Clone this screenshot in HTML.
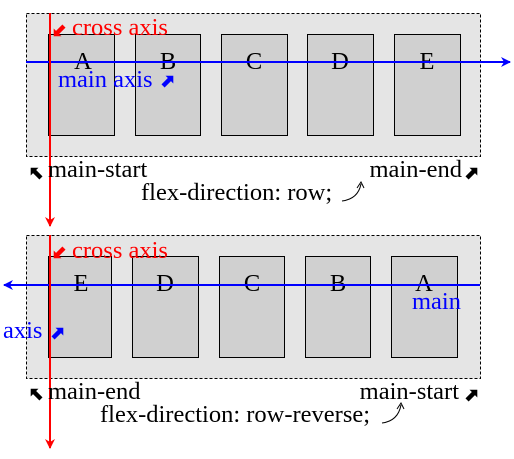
<!DOCTYPE html>
<html><head><meta charset="utf-8"><style>
body{margin:0;background:#fff;width:514px;height:454px;overflow:hidden}
svg text{font-family:"Liberation Serif",serif;font-size:24.5px}
</style></head><body>
<svg width="514" height="454">
<defs>
<marker id="ab" markerWidth="10" markerHeight="10" refX="9" refY="5" orient="auto" markerUnits="userSpaceOnUse"><path d="M0,0 L10,5 L0,10 L3,5z" fill="blue"/></marker>
<marker id="ar" markerWidth="10" markerHeight="10" refX="9" refY="5" orient="auto" markerUnits="userSpaceOnUse"><path d="M0,0 L10,5 L0,10 L3,5z" fill="red"/></marker>
<g id="tip"><path d="M-7,-2.2 L2,-2.2 L2,-5.5 L7.5,0 L2,5.5 L2,2.2 L-7,2.2z"/></g>
</defs>
<g>
<rect x="26.5" y="13.5" width="454" height="143" fill="#e5e5e5" stroke="#000" stroke-dasharray="3,2"/>
<g fill="#d0d0d0" stroke="#000">
<rect x="48.5" y="34.5" width="66" height="101"/>
<rect x="135.5" y="34.5" width="65" height="101"/>
<rect x="221.5" y="34.5" width="66" height="101"/>
<rect x="307.5" y="34.5" width="66" height="101"/>
<rect x="394.5" y="34.5" width="66" height="101"/>
</g>
<g text-anchor="middle">
<text x="83" y="69">A</text><text x="168" y="69">B</text><text x="254" y="69">C</text><text x="340" y="69">D</text><text x="427" y="69">E</text>
</g>
<line x1="26" y1="62" x2="510" y2="62" stroke="blue" stroke-width="2" marker-end="url(#ab)"/>
<line x1="50" y1="13" x2="50" y2="226" stroke="red" stroke-width="2" marker-end="url(#ar)"/>
<text x="72" y="35" fill="red">cross axis</text>
<use href="#tip" transform="translate(59,31) rotate(135)" fill="red"/>
<text x="58" y="87" fill="blue">main axis</text>
<use href="#tip" transform="translate(168,81) rotate(-45)" fill="blue"/>
<use href="#tip" transform="translate(36,173) rotate(-135)" fill="#000"/>
<text x="48" y="177">main-start</text>
<text x="462" y="177" text-anchor="end">main-end</text>
<use href="#tip" transform="translate(472,173) rotate(-45)" fill="#000"/>
<text x="141" y="200">flex-direction: row;</text>
<path d="M342,201 Q358,199 361,184" fill="none" stroke="#000"/><path d="M357,188 L361,182 L364,188" fill="none" stroke="#000"/>
</g>
<g>
<rect x="26.5" y="235.5" width="454" height="143" fill="#e5e5e5" stroke="#000" stroke-dasharray="3,2"/>
<g fill="#d0d0d0" stroke="#000">
<rect x="48.5" y="256.5" width="63" height="101"/>
<rect x="132.5" y="256.5" width="66" height="101"/>
<rect x="219.5" y="256.5" width="65" height="101"/>
<rect x="305.5" y="256.5" width="65" height="101"/>
<rect x="391.5" y="256.5" width="66" height="101"/>
</g>
<g text-anchor="middle">
<text x="81" y="291">E</text><text x="165" y="291">D</text><text x="252" y="291">C</text><text x="338" y="291">B</text><text x="424" y="291">A</text>
</g>
<line x1="480" y1="285" x2="4" y2="285" stroke="blue" stroke-width="2" marker-end="url(#ab)"/>
<line x1="50" y1="235" x2="50" y2="448" stroke="red" stroke-width="2" marker-end="url(#ar)"/>
<text x="72" y="258" fill="red">cross axis</text>
<use href="#tip" transform="translate(59,253) rotate(135)" fill="red"/>
<text x="412" y="309" fill="blue">main</text>
<text x="3" y="338" fill="blue">axis</text>
<use href="#tip" transform="translate(58,333) rotate(-45)" fill="blue"/>
<use href="#tip" transform="translate(36,394) rotate(-135)" fill="#000"/>
<text x="48" y="399">main-end</text>
<text x="459" y="399" text-anchor="end">main-start</text>
<use href="#tip" transform="translate(472,395) rotate(-45)" fill="#000"/>
<text x="100" y="422">flex-direction: row-reverse;</text>
<path d="M382,423 Q398,421 401,405" fill="none" stroke="#000"/><path d="M397,409 L401,403 L404,409" fill="none" stroke="#000"/>
</g>
</svg>
</body></html>
